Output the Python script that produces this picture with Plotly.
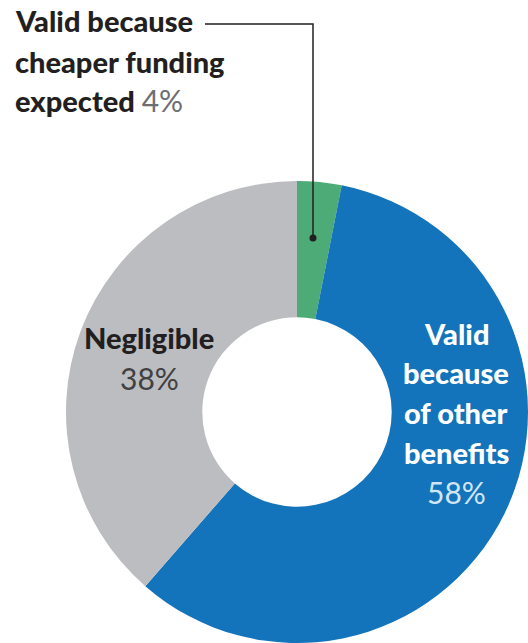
import plotly.graph_objects as go

W, H = 528, 643

categories = ["Valid because cheaper funding expected", "Valid because of other benefits", "Negligible"]
shares = [3.1, 58.3, 38.6]          # slice sizes as drawn in the picture
pct_labels = ["4%", "58%", "38%"]    # printed percentages
colors = ["#4CAB76", "#1373BB", "#BCBDC0"]

cx, cy, r = 297, 412, 231

fig = go.Figure(go.Pie(
    labels=categories, values=shares, sort=False, direction="clockwise", rotation=0,
    hole=0.41, marker=dict(colors=colors, line=dict(width=0)),
    textinfo="none", hoverinfo="label", showlegend=False,
    domain=dict(x=[(cx - r) / W, min(1, (cx + r) / W)],
                y=[max(0, 1 - (cy + r) / H), 1 - (cy - r) / H]),
))

DARK = "#231F20"
annotations = []
BOLD = "Lato Black, Lato"


def ann(text, xpx, base, xanchor, color, family=BOLD, weight=900, size=29):
    annotations.append(dict(
        text=text, x=xpx / W, y=1 - (base - 0.4 * size) / H, xref="paper", yref="paper",
        xanchor=xanchor, yanchor="middle", showarrow=False,
        font=dict(family=family, size=size, color=color, weight=weight),
    ))


# top-left callout
ann("Valid because", 13, 32, "left", DARK)
ann("cheaper funding", 13, 73, "left", DARK)
ann("expected <span style='font-family:Lato;font-weight:400;font-size:30px;color:#6D6E71'>"
    + pct_labels[0] + "</span>", 13, 112, "left", DARK)

# negligible
ann("Negligible", 149, 349, "center", DARK)
ann(pct_labels[2], 149, 390, "center", "#414042", family="Lato", weight=400, size=30)

# valid because of other benefits
for t, b in zip(["Valid", "because", "of other", "benefits"], [345, 384, 424, 464]):
    ann(t, 456, b, "center", "white")
ann(pct_labels[1], 456, 504, "center", "#D2E5F5", family="Lato", weight=400, size=30)

shapes = [
    dict(type="path", xref="paper", yref="paper",
         path=f"M {205/W} {1-24/H} L {313/W} {1-24/H} L {313/W} {1-238/H}",
         line=dict(color=DARK, width=1.5)),
    dict(type="circle", xref="paper", yref="paper",
         x0=(313 - 3.5) / W, x1=(313 + 3.5) / W, y0=1 - (238 + 3.5) / H, y1=1 - (238 - 3.5) / H,
         fillcolor=DARK, line=dict(width=0)),
]

fig.update_layout(
    width=W, height=H, margin=dict(l=0, r=0, t=0, b=0),
    paper_bgcolor="white", plot_bgcolor="white",
    annotations=annotations, shapes=shapes,
)

fig.write_html("out.html")
